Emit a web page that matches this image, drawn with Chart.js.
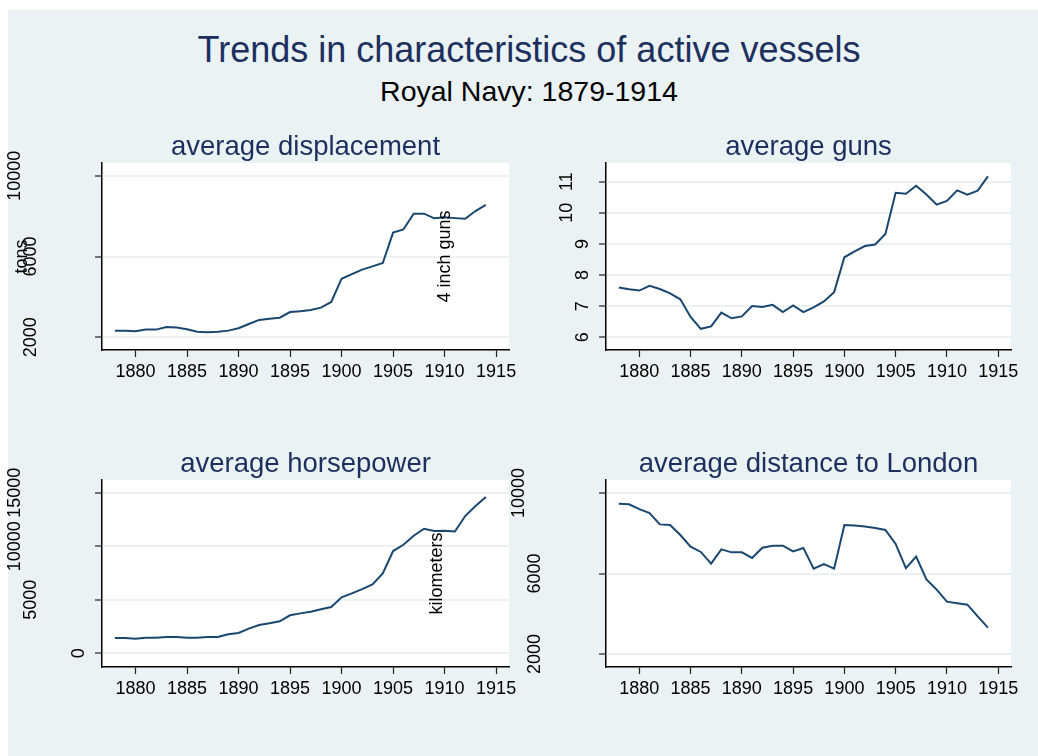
<!DOCTYPE html>
<html><head><meta charset="utf-8">
<script src="https://cdn.jsdelivr.net/npm/chart.js@4.4.1/dist/chart.umd.min.js"></script>
<style>
html,body{margin:0;padding:0;background:#fff;}
#wrap{position:relative;width:1038px;height:756px;overflow:hidden;background:#fff;}
#bg{position:absolute;left:8px;top:10px;right:0;bottom:0;background:#eaf2f3;}
canvas{position:absolute;left:0;top:0;}
.t{position:absolute;left:0;width:1058px;text-align:center;font-family:"Liberation Sans",Arial,sans-serif;white-space:nowrap;}
</style></head>
<body>
<div id="wrap">
<div id="bg"></div>
<div class="t" style="top:31.5px;font-size:36px;line-height:36px;color:#1c2f5e;">Trends in characteristics of active vessels</div>
<div class="t" style="top:76.5px;font-size:28.5px;line-height:28.5px;color:#000;">Royal Navy: 1879-1914</div>
<canvas id="c1" width="1038" height="756"></canvas>
<canvas id="c2" width="1038" height="756"></canvas>
<canvas id="c3" width="1038" height="756"></canvas>
<canvas id="c4" width="1038" height="756"></canvas>
</div>
<script>
// ---- data ----
const years = [1878,1879,1880,1881,1882,1883,1884,1885,1886,1887,1888,1889,1890,1891,1892,1893,1894,1895,1896,1897,1898,1899,1900,1901,1902,1903,1904,1905,1906,1907,1908,1909,1910,1911,1912,1913,1914];
const displacement = [2330,2330,2300,2380,2380,2510,2480,2400,2280,2250,2280,2330,2450,2660,2860,2920,2970,3250,3290,3350,3470,3750,4900,5130,5350,5510,5680,7180,7340,8120,8120,7890,7940,7900,7870,8250,8560];
const guns = [7.60,7.54,7.50,7.65,7.55,7.41,7.22,6.65,6.27,6.35,6.79,6.61,6.67,7.00,6.97,7.04,6.81,7.02,6.81,6.96,7.15,7.45,8.57,8.76,8.93,8.98,9.32,10.64,10.61,10.87,10.59,10.26,10.38,10.72,10.58,10.71,11.17];
const horsepower = [1430,1430,1370,1460,1460,1520,1520,1460,1460,1520,1520,1770,1900,2300,2640,2800,2990,3550,3730,3890,4110,4320,5230,5600,6000,6440,7470,9550,10140,10980,11630,11420,11450,11380,12820,13750,14590];
const distance = [9470,9440,9200,9000,8440,8410,7910,7330,7070,6490,7200,7050,7050,6770,7280,7380,7380,7100,7270,6240,6470,6240,8410,8380,8330,8260,8160,7470,6270,6840,5710,5200,4600,4520,4450,3870,3310];
const xTicks = [1880,1885,1890,1895,1900,1905,1910,1915];
const dispTicks = [2000,6000,10000];
const gunsTicks = [6,7,8,9,10,11];
const hpTicks = [0,5000,10000,15000];
const distTicks = [2000,6000,10000];
const panelTitles = ['average displacement','average guns','average horsepower','average distance to London'];
const axisTitles = ['tons','4 inch guns','','kilometers'];

// ---- layout / style ----
const FAM = '"Liberation Sans", Arial, sans-serif';
const NAVY = '#1c2f5e';
const LINE = '#1a476f';
const W = 1038, H = 756, YW = 7, XH = 40;
const panels = [
  {id:'c1', vals:displacement, ticks:dispTicks, min:1371, max:10629, box:[102,163,509,350], titleIdx:0, axisX:22},
  {id:'c2', vals:guns, ticks:gunsTicks, min:5.59, max:11.6, box:[606,163,1011,350], titleIdx:1, axisX:445},
  {id:'c3', vals:horsepower, ticks:hpTicks, min:-1280, max:16186, box:[102,480,509,667], titleIdx:2, axisX:0},
  {id:'c4', vals:distance, ticks:distTicks, min:1356, max:10644, box:[606,480,1011,667], titleIdx:3, axisX:437}
];

function makeDeco(p) {
  return {
    id: 'deco_' + p.id,
    beforeDraw(chart) {
      const ctx = chart.ctx, a = chart.chartArea;
      ctx.save();
      ctx.fillStyle = '#ffffff';
      ctx.fillRect(a.left, a.top, a.right - a.left, a.bottom - a.top);
      ctx.restore();
    },
    afterDraw(chart) {
      const ctx = chart.ctx, a = chart.chartArea, ys = chart.scales.y;
      ctx.save();
      ctx.font = '18px ' + FAM;
      ctx.fillStyle = '#000';
      ctx.textAlign = 'center';
      ctx.textBaseline = 'middle';
      p.ticks.forEach(v => {
        const s = String(v);
        const py = ys.getPixelForValue(v);
        const px = a.left - 7 - 16 * s.length;
        ctx.save();
        ctx.translate(px, py);
        ctx.rotate(-Math.PI / 2);
        ctx.fillText(s, 0, 0);
        ctx.restore();
      });
      const at = axisTitles[p.titleIdx];
      if (at) {
        ctx.save();
        ctx.translate(p.axisX, (a.top + a.bottom) / 2);
        ctx.rotate(-Math.PI / 2);
        ctx.fillText(at, 0, 0);
        ctx.restore();
      }
      ctx.font = '27.5px ' + FAM;
      ctx.fillStyle = NAVY;
      ctx.textBaseline = 'alphabetic';
      ctx.fillText(panelTitles[p.titleIdx], (a.left + a.right) / 2, a.top - 8);
      ctx.restore();
    }
  };
}

panels.forEach(p => {
  const [l, t, r, b] = p.box;
  new Chart(document.getElementById(p.id), {
    type: 'line',
    data: {
      datasets: [{
        data: years.map((y, i) => ({x: y, y: p.vals[i]})),
        borderColor: LINE,
        borderWidth: 2,
        pointRadius: 0,
        tension: 0,
        fill: false
      }]
    },
    options: {
      responsive: false,
      animation: false,
      devicePixelRatio: 1,
      events: [],
      layout: {padding: {left: l - YW, top: t, right: W - r, bottom: H - b - XH}},
      plugins: {legend: {display: false}, tooltip: {enabled: false}, title: {display: false}},
      scales: {
        x: {
          type: 'linear', min: 1876.75, max: 1916.25,
          afterBuildTicks: s => { s.ticks = xTicks.map(v => ({value: v})); },
          afterFit: s => { s.height = XH; },
          grid: {drawOnChartArea: false, tickLength: 7, tickColor: '#222', tickWidth: 1.2},
          border: {color: '#000', width: 1.5},
          ticks: {font: {size: 18, family: FAM}, color: '#000', padding: 4, maxRotation: 0, autoSkip: false,
                  callback: v => String(v)}
        },
        y: {
          type: 'linear', min: p.min, max: p.max,
          afterBuildTicks: s => { s.ticks = p.ticks.map(v => ({value: v})); },
          afterFit: s => { s.width = YW; },
          grid: {color: '#eaf2f3', lineWidth: 2, tickLength: 7, tickColor: '#222', tickWidth: 1.2},
          border: {color: '#000', width: 1.5},
          ticks: {display: false}
        }
      }
    },
    plugins: [makeDeco(p)]
  });
});
</script>
</body></html>
